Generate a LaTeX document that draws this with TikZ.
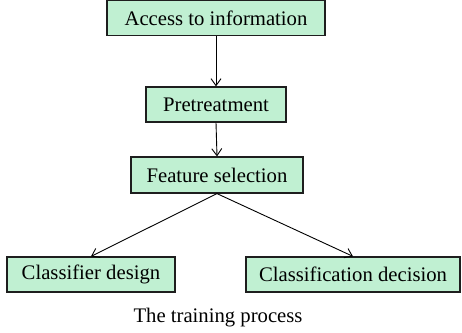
\documentclass[tikz,border=0pt]{standalone}
\usepackage{fontspec}
\setmainfont{Liberation Serif}
\usetikzlibrary{arrows.meta}
\definecolor{boxfill}{RGB}{192,240,210}
\definecolor{boxline}{RGB}{30,30,30}
\tikzset{
  stepbox/.style={draw=boxline, fill=boxfill, line width=1.2pt, inner sep=0pt,
    font=\fontsize{20.7}{24}\selectfont, anchor=center},
  flowarrow/.style={draw=black, line width=0.9pt, -{Straight Barb[length=7pt,width=10pt]}}
}
\begin{document}
\begin{tikzpicture}[x=1pt,y=-1pt]
\useasboundingbox (0,0) rectangle (462,332);
\node[stepbox, minimum width=218pt, minimum height=35pt] (acc) at (216,18.2) {Access to information};
\node[stepbox, minimum width=140pt, minimum height=35pt] (pre) at (216,104.5) {Pretreatment};
\node[stepbox, minimum width=172pt, minimum height=36pt] (fea) at (217,175) {Feature selection};
\node[stepbox, minimum width=168pt, minimum height=35pt] (cls) at (91,274.5) {Classifier design};
\node[stepbox, minimum width=214pt, minimum height=35pt] (dec) at (353,274.5) {Classification decision};
\node[font=\fontsize{20.7}{24}\selectfont, inner sep=0pt] (cap) at (218,318) {The training process};
\draw[flowarrow] (acc.south) -- (pre.north);
\draw[flowarrow] (pre.south) -- (fea.north);
\draw[flowarrow] (fea.south) -- (cls.north);
\draw[flowarrow] (fea.south) -- (dec.north);
\end{tikzpicture}
\end{document}
